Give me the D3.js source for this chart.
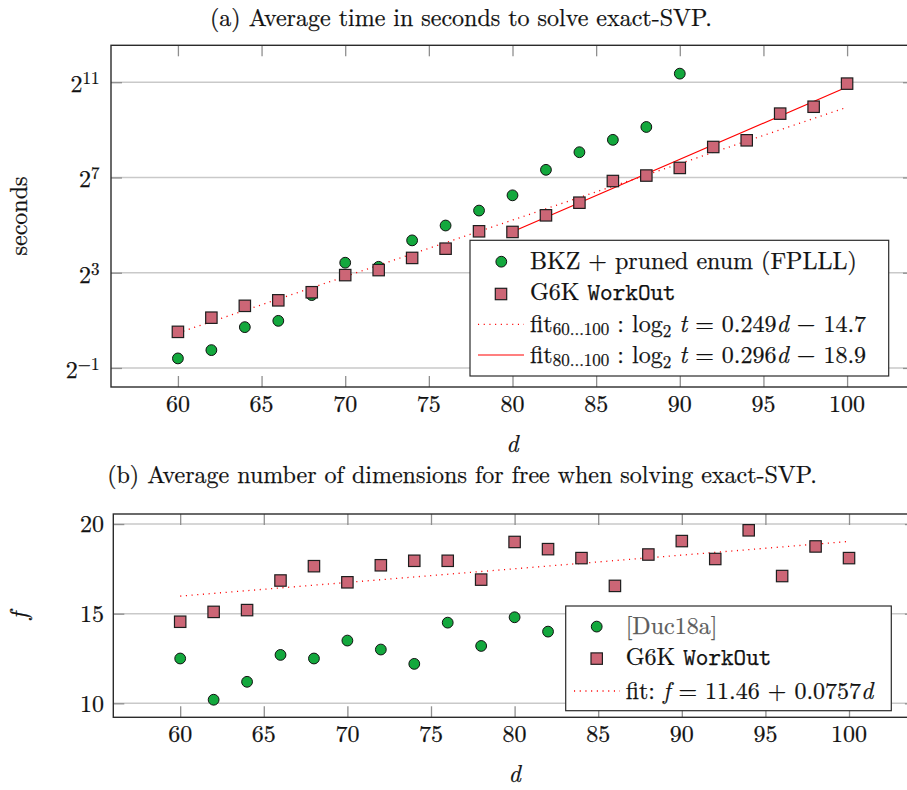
<!DOCTYPE html>
<html><head><meta charset="utf-8">
<script src="https://cdn.jsdelivr.net/npm/d3@7"></script>
<style>
body{margin:0;background:#fff}
svg{display:block}
text{font-family:"Latin Modern Roman","Liberation Serif",serif;fill:#111;white-space:pre;stroke:#111;stroke-width:0.25px}
</style>
</head><body>
<svg id="chart" width="907" height="790"></svg>
<script>
// ---------- data: panel (a) ----------
const xTicks = [60,65,70,75,80,85,90,95,100];
const bkzDims = [60,62,64,66,68,70,72,74,76,78,80,82,84,86,88,90];
const bkzSeconds = [0.66,0.84,1.64,1.97,4.17,10.7,9.5,20.5,31.6,48.8,76.1,159.8,266.9,382.6,556.4,2628];
const g6kDims = [60,62,64,66,68,70,72,74,76,78,80,82,84,86,88,90,92,94,96,98,100];
const g6kSeconds = [1.43,2.16,3.05,3.58,4.53,7.46,8.63,12.3,16.1,26.7,26.2,42.5,61.4,115.4,135.3,168.9,310.8,377.4,820.4,1003,1965];
const fitAllDims = [60,100];
const fitAllSeconds = [1.385,989];
const fit80Dims = [80,100];
const fit80Seconds = [26.35,1783];
const timeTicks = [0.5,8,128,2048];
const timeTickExp = ["\u22121","3","7","11"];
// ---------- data: panel (b) ----------
const ducDims = [60,62,64,66,68,70,72,74,76,78,80,82];
const ducFree = [12.5,10.2,11.2,12.7,12.5,13.5,13.0,12.2,14.5,13.2,14.8,14.0];
const g6kFree = [14.55,15.1,15.2,16.85,17.65,16.75,17.7,17.95,17.95,16.9,19.0,18.6,18.1,16.55,18.3,19.05,18.05,19.65,17.1,18.75,18.1];
const fitFreeDims = [60,100];
const fitFreeVals = [15.98,19.03];
const freeTicks = [10,15,20];

const GREEN = "#13a83d", ROSE = "#cc6676";
const svg = d3.select("#chart");

function richText(g, x, y, segs, anchor){
  const t = g.append("text").attr("x",x).attr("y",y).attr("font-size",24)
    .attr("text-anchor",anchor||"start");
  let shift = 0;
  segs.forEach(s=>{
    const target = s.sub ? s.sub : (s.sup ? -s.sup : 0);
    const ts = t.append("tspan").text(s.t).attr("dy", target-shift);
    shift = target;
    if(s.sub||s.sup) ts.attr("font-size",17);
    if(s.it) ts.attr("font-style","italic");
    if(s.mono) ts.style("font-family","'Latin Modern Mono','Liberation Mono',monospace");
    if(s.fill) ts.style("fill",s.fill).style("stroke",s.fill);
  });
  return t;
}

function frameAxes(g, x, y, L, R, T, B, yTickVals){
  g.append("g").selectAll("line").data(yTickVals).join("line")
    .attr("x1",L).attr("x2",R).attr("y1",d=>y(d)).attr("y2",d=>y(d))
    .attr("stroke","#c9c9c9").attr("stroke-width",1.4);
  const tickStyle = s=>{ s.select(".domain").remove();
    s.selectAll(".tick line").attr("stroke","#8f8f8f").attr("stroke-width",1.3);
    s.selectAll(".tick text").remove(); };
  g.append("g").attr("transform",`translate(0,${B})`).call(d3.axisBottom(x).tickValues(xTicks).tickSize(-11)).call(tickStyle);
  g.append("g").attr("transform",`translate(0,${T})`).call(d3.axisTop(x).tickValues(xTicks).tickSize(-11)).call(tickStyle);
  g.append("g").attr("transform",`translate(${L},0)`).call(d3.axisLeft(y).tickValues(yTickVals).tickSize(-11)).call(tickStyle);
  g.append("g").attr("transform",`translate(${R},0)`).call(d3.axisRight(y).tickValues(yTickVals).tickSize(-11)).call(tickStyle);
  g.append("g").selectAll("text").data(xTicks).join("text")
    .attr("x",d=>x(d)).attr("y",B+24.7).attr("text-anchor","middle").attr("font-size",24).text(d=>d);
}
function frameRect(g,L,R,T,B){
  g.append("rect").attr("x",L).attr("y",T).attr("width",R-L).attr("height",B-T)
    .attr("fill","none").attr("stroke","#2b2b2b").attr("stroke-width",1.4);
}
function circles(g, xs, ys, x, y){
  g.append("g").selectAll("circle").data(xs).join("circle")
    .attr("cx",(d)=>x(d)).attr("cy",(d,i)=>y(ys[i])).attr("r",5.4)
    .attr("fill",GREEN).attr("stroke","#111").attr("stroke-width",1);
}
function squares(g, xs, ys, x, y){
  g.append("g").selectAll("rect").data(xs).join("rect")
    .attr("x",d=>x(d)-5.7).attr("y",(d,i)=>y(ys[i])-5.7).attr("width",11.4).attr("height",11.4)
    .attr("fill",ROSE).attr("stroke","#1e1e1e").attr("stroke-width",1.2);
}
function fitLine(g, xs, ys, x, y, dotted){
  const line = d3.line().x(d=>x(d[0])).y(d=>y(d[1]));
  const p = g.append("path").datum(xs.map((d,i)=>[d,ys[i]])).attr("d",line)
    .attr("fill","none").attr("stroke","#ff0000").attr("stroke-width",dotted?1.3:1.2);
  if(dotted) p.attr("stroke-dasharray","1.1 4.6");
}

// ================= Panel (a) =================
{
  const L=111,R=914,T=45.3,B=387;
  const x = d3.scaleLinear().domain([56,104]).range([L,R]);
  const y = d3.scaleLog().base(2).domain([Math.pow(2,-1.8),Math.pow(2,12.55)]).range([B,T]);
  const g = svg.append("g");
  frameAxes(g,x,y,L,R,T,B,timeTicks);
  timeTicks.forEach((v,i)=>richText(g,99.5,y(v)+10,[{t:"2"},{t:timeTickExp[i],sup:8}],"end"));
  fitLine(g,fitAllDims,fitAllSeconds,x,y,true);
  fitLine(g,fit80Dims,fit80Seconds,x,y,false);
  circles(g,bkzDims,bkzSeconds,x,y);
  squares(g,g6kDims,g6kSeconds,x,y);
  const lg = g.append("g");
  lg.append("rect").attr("x",470).attr("y",240.3).attr("width",418.7).attr("height",135.7)
    .attr("fill","#fff").attr("stroke","#2b2b2b").attr("stroke-width",1.2);
  lg.append("circle").attr("cx",501.3).attr("cy",261.7).attr("r",5.4).attr("fill",GREEN).attr("stroke","#111").attr("stroke-width",1);
  lg.append("rect").attr("x",501-5.7).attr("y",294-5.7).attr("width",11.4).attr("height",11.4).attr("fill",ROSE).attr("stroke","#1e1e1e").attr("stroke-width",1.2);
  lg.append("line").attr("x1",478).attr("x2",524).attr("y1",324.3).attr("y2",324.3).attr("stroke","#ff0000").attr("stroke-width",1.3).attr("stroke-dasharray","1.1 4.6");
  lg.append("line").attr("x1",478).attr("x2",524).attr("y1",355).attr("y2",355).attr("stroke","#ff0000").attr("stroke-width",1.2);
  richText(lg,530,269.3,[{t:"BKZ + pruned enum (FPLLL)"}]);
  richText(lg,530,300,[{t:"G6K "},{t:"WorkOut",mono:true}]);
  richText(lg,530,331.7,[{t:"fit"},{t:"60...100",sub:3.5},{t:" : log"},{t:"2",sub:5},{t:" "},{t:"t",it:true},{t:" = 0.249"},{t:"d",it:true},{t:" \u2212 14.7"}]);
  richText(lg,530,362.7,[{t:"fit"},{t:"80...100",sub:3.5},{t:" : log"},{t:"2",sub:5},{t:" "},{t:"t",it:true},{t:" = 0.296"},{t:"d",it:true},{t:" \u2212 18.9"}]);
  frameRect(g,L,R,T,B);
  g.append("text").attr("transform","translate(26.7,216) rotate(-90)").attr("text-anchor","middle").attr("font-size",24).text("seconds");
  richText(g,512.5,451.7,[{t:"d",it:true}],"middle");
  richText(g,461,26,[{t:"(a) Average time in seconds to solve exact-SVP."}],"middle");
}

// ================= Panel (b) =================
{
  const L=113.3,R=915.9,T=514,B=717.3;
  const x = d3.scaleLinear().domain([56,104]).range([L,R]);
  const y = d3.scaleLinear().domain([9.22,20.56]).range([B,T]);
  const g = svg.append("g");
  frameAxes(g,x,y,L,R,T,B,freeTicks);
  g.append("g").selectAll("text").data(freeTicks).join("text")
    .attr("x",104).attr("y",d=>y(d)+8.3).attr("text-anchor","end").attr("font-size",24).text(d=>d);
  fitLine(g,fitFreeDims,fitFreeVals,x,y,true);
  circles(g,ducDims,ducFree,x,y);
  squares(g,g6kDims,g6kFree,x,y);
  const lg = g.append("g");
  lg.append("rect").attr("x",565.7).attr("y",606).attr("width",325.6).attr("height",104.7)
    .attr("fill","#fff").attr("stroke","#2b2b2b").attr("stroke-width",1.2);
  lg.append("circle").attr("cx",596.7).attr("cy",626.6).attr("r",5.4).attr("fill",GREEN).attr("stroke","#111").attr("stroke-width",1);
  lg.append("rect").attr("x",596.7-5.7).attr("y",658.6-5.7).attr("width",11.4).attr("height",11.4).attr("fill",ROSE).attr("stroke","#1e1e1e").attr("stroke-width",1.2);
  lg.append("line").attr("x1",574).attr("x2",620).attr("y1",691).attr("y2",691).attr("stroke","#ff0000").attr("stroke-width",1.3).attr("stroke-dasharray","1.1 4.6");
  richText(lg,625.7,634.4,[{t:"[Duc18a]",fill:"#5c5c5c"}]);
  richText(lg,625.7,665.2,[{t:"G6K "},{t:"WorkOut",mono:true}]);
  richText(lg,625.7,698.6,[{t:"fit: "},{t:"f",it:true},{t:" = 11.46 + 0.0757"},{t:"d",it:true}]);
  frameRect(g,L,R,T,B);
  g.append("text").attr("transform","translate(26.5,615.7) rotate(-90)").attr("text-anchor","middle").attr("font-size",24).attr("font-style","italic").text("f");
  richText(g,514.6,782,[{t:"d",it:true}],"middle");
  richText(g,462,483,[{t:"(b) Average number of dimensions for free when solving exact-SVP."}],"middle");
}
</script>
</body></html>
